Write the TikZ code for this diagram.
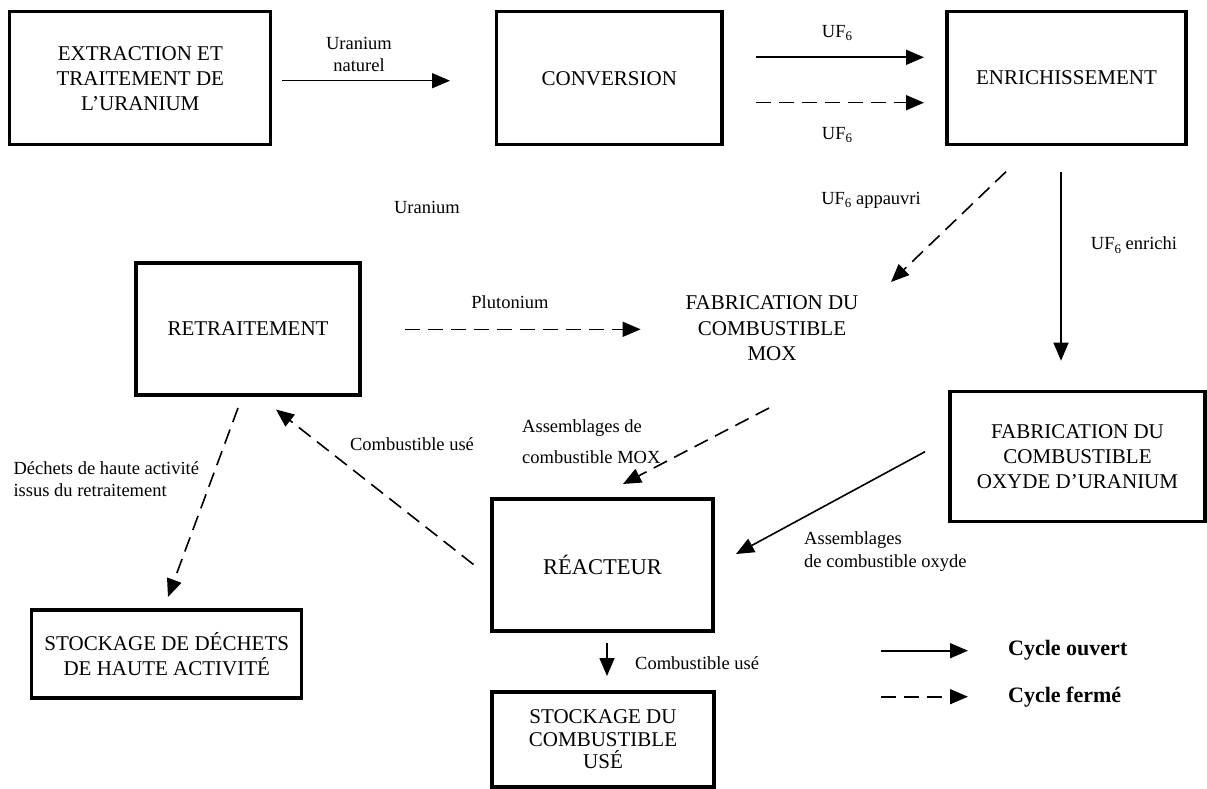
\documentclass[tikz,border=0pt]{standalone}
\usepackage{fontspec}
\setmainfont{Liberation Serif}
\usetikzlibrary{arrows.meta}
\newcommand{\sixsub}{\raisebox{-0.45ex}{\fontsize{13}{13}\selectfont 6}}
\begin{document}
\begin{tikzpicture}[x=1pt,y=-1pt,
  box/.style={draw, line width=3.2pt, inner sep=0pt, align=center, font=\fontsize{21}{25}\selectfont},
  boxtext/.style={inner sep=0pt, align=center, font=\fontsize{21}{25.5}\selectfont},
  lbl/.style={inner sep=0pt, align=center, font=\fontsize{18.5}{22}\selectfont},
  lbll/.style={lbl, align=left, anchor=west},
  legtext/.style={inner sep=0pt, anchor=west, font=\fontsize{22}{26}\selectfont\bfseries},
  conn/.style={line width=1.6pt, -{Triangle[length=18pt,width=15pt]}},
  dconn/.style={conn, dash pattern=on 15pt off 8pt},
]
\useasboundingbox (0,0) rectangle (1207,789);

% boxes
\node[box, minimum width=261pt, minimum height=133pt] (ext) at (140.3,78.4) {EXTRACTION ET\\TRAITEMENT DE\\L’URANIUM};
\node[box, minimum width=225.5pt, minimum height=133pt] (conv) at (609.3,78.4) {CONVERSION};
\node[box, minimum width=239pt, minimum height=133pt] (enr) at (1066.5,78) {ENRICHISSEMENT};
\node[box, minimum width=224pt, minimum height=132pt] (retr) at (248,329) {RETRAITEMENT};
\node[box, minimum width=255pt, minimum height=130pt] (oxy) at (1077.5,456.7) {FABRICATION DU\\COMBUSTIBLE\\OXYDE D’URANIUM};
\node[box, minimum width=221pt, minimum height=132pt, font=\fontsize{22.5}{26}\selectfont] (reac) at (602.5,565) {RÉACTEUR};
\node[box, minimum width=270pt, minimum height=88pt] (stockd) at (166.8,654) {STOCKAGE DE DÉCHETS\\DE HAUTE ACTIVITÉ};
\node[box, minimum width=222pt, minimum height=95pt, font=\fontsize{21}{22.5}\selectfont] (stocku) at (603,739.4) {STOCKAGE DU\\COMBUSTIBLE\\USÉ};

\node[boxtext] (mox) at (772,328.5) {FABRICATION DU\\COMBUSTIBLE\\MOX};

% labels
\node[lbl] (lnat) at (359,54) {Uranium\\naturel};
\node[lbl] (luf1) at (837,33) {UF\sixsub};
\node[lbl] (luf2) at (837,135) {UF\sixsub};
\node[lbl] (luran) at (427,207) {Uranium};
\node[lbl] (lapp) at (871,200) {UF\sixsub\ appauvri};
\node[lbl] (lenr) at (1134,245) {UF\sixsub\ enrichi};
\node[lbl] (lplu) at (510,302) {Plutonium};
\node[lbll, font=\fontsize{18.5}{31}\selectfont] (lmox) at (522,442) {Assemblages de\\combustible MOX};
\node[lbl] (lcu) at (412,444) {Combustible usé};
\node[lbll] (ldech) at (13.4,479) {Déchets de haute activité\\issus du retraitement};
\node[lbll, font=\fontsize{18.5}{23}\selectfont] (loxy) at (804,551.5) {Assemblages\\de combustible oxyde};
\node[lbll] (lcu2) at (635,663) {Combustible usé};

% connector end points
\coordinate (n1) at (282,80.7);   \coordinate (n2) at (450,80.7);
\coordinate (u1) at (756,57.3);   \coordinate (u2) at (924,57.3);
\coordinate (u3) at (756,102.7);  \coordinate (u4) at (924,102.7);
\coordinate (p1) at (1006,171.7); \coordinate (p2) at (891,282);
\coordinate (e1) at (1061,171.7); \coordinate (e2) at (1061,360.7);
\coordinate (pl1) at (405,329.3); \coordinate (pl2) at (640.6,329.3);
\coordinate (m1) at (769,408);    \coordinate (m2) at (623,484);
\coordinate (o1) at (925,451.7);  \coordinate (o2) at (736,554);
\coordinate (c1) at (473.5,564.5);\coordinate (c2) at (276,409.5);
\coordinate (d1) at (238,408);    \coordinate (d2) at (168,597);
\coordinate (s1) at (607,643);    \coordinate (s2) at (607,676);

\draw[conn] (n1) -- (n2);
\draw[conn] (u1) -- (u2);
\draw[dconn] (u3) -- (u4);
\draw[dconn] (p1) -- (p2);
\draw[conn] (e1) -- (e2);
\draw[dconn] (pl1) -- (pl2);
\draw[dconn] (m1) -- (m2);
\draw[conn] (o1) -- (o2);
\draw[dconn] (c1) -- (c2);
\draw[dconn] (d1) -- (d2);
\draw[conn] (s1) -- (s2);

% legend
\coordinate (g1) at (881,650.7); \coordinate (g2) at (968,650.7);
\coordinate (g3) at (881,696.7); \coordinate (g4) at (968,696.7);
\draw[conn] (g1) -- (g2);
\draw[dconn] (g3) -- (g4);
\node[legtext] (lgo) at (1008,650.7) {Cycle ouvert};
\node[legtext] (lgf) at (1008,696.7) {Cycle fermé};
\end{tikzpicture}
\end{document}
